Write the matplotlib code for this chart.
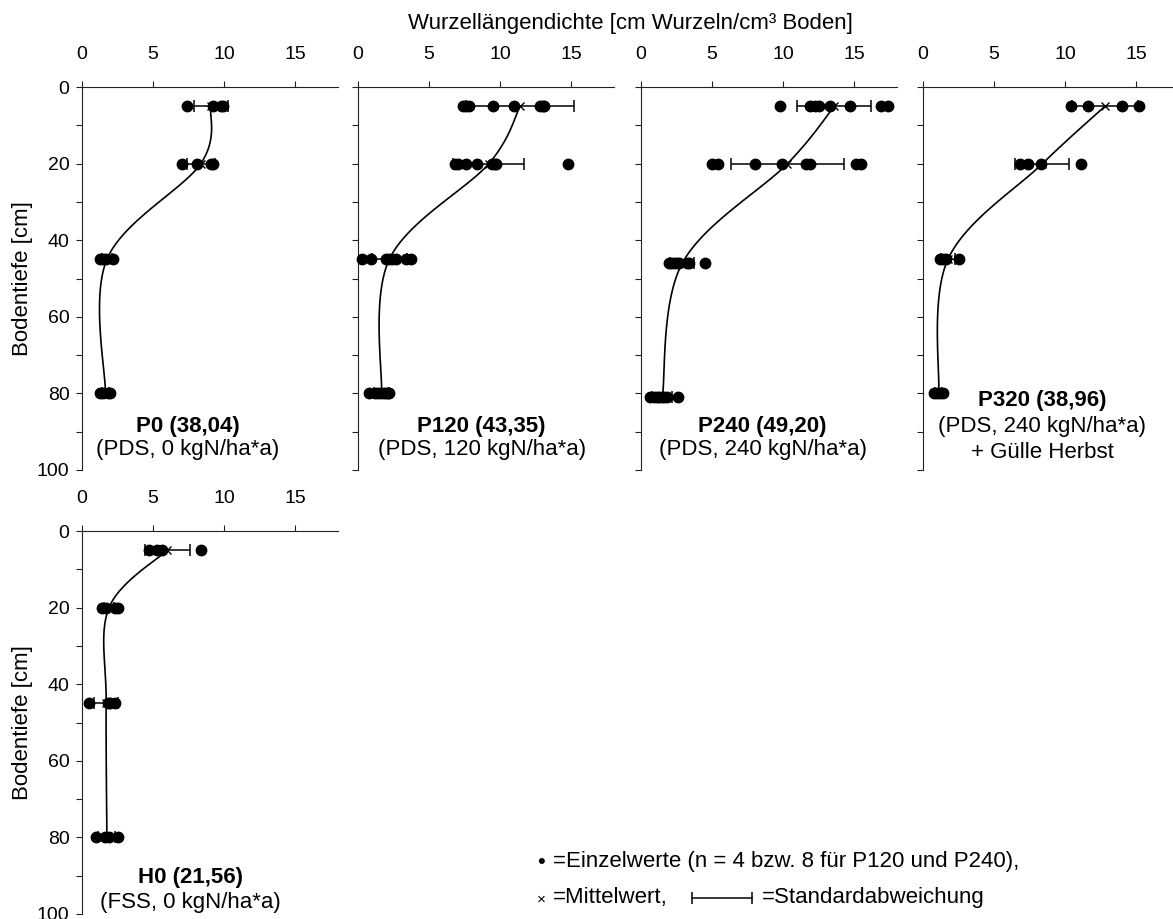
import numpy as np
import matplotlib.pyplot as plt
from matplotlib.lines import Line2D

plt.rcParams['font.family'] = ['Liberation Sans', 'DejaVu Sans']

# Probenahmetiefen [cm]
depth_p0 = [5, 20, 45, 80]
depth_p120 = [5, 20, 45, 80]
depth_p240 = [5, 20, 46, 81]
depth_p320 = [5, 20, 45, 80]
depth_h0 = [5, 20, 45, 80]

# Einzelwerte (je Tiefe)
vals_p0 = [[7.4, 9.2, 9.8, 9.9], [7.0, 8.1, 9.1, 9.2],
           [1.3, 1.5, 1.7, 2.2], [1.3, 1.5, 1.8, 2.0]]
vals_p120 = [[7.4, 7.6, 7.8, 9.5, 11.0, 12.8, 13.0, 13.1],
             [6.8, 7.0, 7.6, 8.4, 9.4, 9.6, 9.7, 14.8],
             [0.3, 0.9, 2.0, 2.2, 2.4, 2.7, 3.4, 3.7],
             [0.8, 1.2, 1.4, 1.6, 1.8, 2.0, 2.1, 2.2]]
vals_p240 = [[9.8, 11.9, 12.2, 12.5, 13.3, 14.7, 16.9, 17.4],
             [5.0, 5.4, 8.0, 9.9, 11.6, 11.9, 15.1, 15.5],
             [2.0, 2.1, 2.3, 2.5, 2.7, 3.2, 3.4, 4.5],
             [0.6, 0.9, 1.1, 1.3, 1.5, 1.6, 1.8, 2.6]]
vals_p320 = [[10.4, 11.6, 14.0, 15.2], [6.8, 7.4, 8.3, 11.1],
             [1.2, 1.4, 1.6, 2.5], [0.8, 1.0, 1.2, 1.4]]
vals_h0 = [[4.7, 5.3, 5.6, 8.4], [1.4, 1.7, 2.3, 2.5],
           [0.5, 1.8, 2.0, 2.3], [1.0, 1.6, 1.9, 2.5]]

# Mittelwerte und Standardabweichungen
mean_p0 = [9.05, 8.35, 1.75, 1.65]
sd_p0 = [1.2, 1.0, 0.33, 0.25]
mean_p120 = [11.4, 9.2, 2.2, 1.65]
sd_p120 = [3.8, 2.5, 1.25, 0.55]
mean_p240 = [13.6, 10.3, 2.9, 1.5]
sd_p240 = [2.6, 4.0, 0.85, 0.7]
mean_p320 = [12.8, 8.4, 1.75, 1.1]
sd_p320 = [2.3, 1.9, 0.5, 0.25]
mean_h0 = [6.0, 1.9, 1.7, 1.75]
sd_h0 = [1.6, 0.38, 0.85, 0.6]

labels_p0 = ["P0 (38,04)", "(PDS, 0 kgN/ha*a)"]
labels_p120 = ["P120 (43,35)", "(PDS, 120 kgN/ha*a)"]
labels_p240 = ["P240 (49,20)", "(PDS, 240 kgN/ha*a)"]
labels_p320 = ["P320 (38,96)", "(PDS, 240 kgN/ha*a)", "+ Gülle Herbst"]
labels_h0 = ["H0 (21,56)", "(FSS, 0 kgN/ha*a)"]


def smooth(x, y, n=40):
    # geglaettete Linie wie in Excel (Bezier durch die Punkte)
    x = np.asarray(x, float)
    y = np.asarray(y, float)
    t = np.linspace(0, 1, n)[:, None]
    out = []
    for i in range(len(x) - 1):
        a = max(i - 1, 0)
        b = min(i + 2, len(x) - 1)
        p0 = np.array([x[i], y[i]])
        p3 = np.array([x[i + 1], y[i + 1]])
        p1 = p0 + (np.array([x[i + 1], y[i + 1]]) - np.array([x[a], y[a]])) / 6
        p2 = p3 - (np.array([x[b], y[b]]) - np.array([x[i], y[i]])) / 6
        seg = ((1 - t) ** 3) * p0 + 3 * ((1 - t) ** 2) * t * p1 \
            + 3 * (1 - t) * t ** 2 * p2 + t ** 3 * p3
        out.append(seg)
    out = np.vstack(out)
    return out[:, 0], out[:, 1]


W, H = 1173, 919
fig = plt.figure(figsize=(W / 100, H / 100), dpi=100)

panels = [
    (82, 87, depth_p0, vals_p0, mean_p0, sd_p0, labels_p0, 7.45, [88.7, 94.7], True),
    (358, 87, depth_p120, vals_p120, mean_p120, sd_p120, labels_p120, 8.7, [88.7, 94.7], False),
    (641, 87, depth_p240, vals_p240, mean_p240, sd_p240, labels_p240, 8.55, [88.7, 94.7], False),
    (923, 87, depth_p320, vals_p320, mean_p320, sd_p320, labels_p320, 8.4, [81.8, 88.6, 95.4], False),
    (82, 531, depth_h0, vals_h0, mean_h0, sd_h0, labels_h0, 7.6, [90.6, 97.1], True),
]

aw, ah = 256, 383
for left, top, dep, vals, mean, sd, labs, lx, ly, ylab in panels:
    ax = fig.add_axes([left / W, 1 - (top + ah) / H, aw / W, ah / H])
    ax.set_xlim(0, 18)
    ax.set_ylim(100, 0)
    ax.spines['right'].set_visible(False)
    ax.spines['bottom'].set_visible(False)
    for s in ['left', 'top']:
        ax.spines[s].set_linewidth(0.8)
        ax.spines[s].set_color('#222222')
    ax.xaxis.tick_top()
    ax.set_xticks([0, 5, 10, 15])
    ax.set_yticks(range(0, 101, 20))
    ax.set_yticks(range(10, 100, 20), minor=True)
    ax.tick_params(axis='x', direction='out', length=4, width=0.8, pad=13,
                   labelsize=14, colors='#222222', labelcolor='black')
    ax.tick_params(axis='y', which='both', direction='out', length=4, width=0.8,
                   pad=5, labelsize=14, colors='#222222', labelcolor='black')
    if ylab:
        ax.set_ylabel("Bodentiefe [cm]", fontsize=16, labelpad=3)
    else:
        ax.tick_params(axis='y', labelleft=False)
    ax.patch.set_alpha(0)

    cx, cy = smooth(mean, dep)
    ax.plot(cx, cy, color='black', lw=1.2, zorder=2, clip_on=False)
    ax.errorbar(mean, dep, xerr=sd, fmt='none', ecolor='black', elinewidth=1.1,
                capsize=4, capthick=1.1, zorder=3, clip_on=False)
    for d, v in zip(dep, vals):
        ax.plot(v, [d] * len(v), 'o', color='black', ms=7.5, zorder=4, clip_on=False)
    ax.plot(mean, dep, 'x', color='black', ms=6, mew=1, zorder=5, clip_on=False)

    for k, (txt, yy) in enumerate(zip(labs, ly)):
        ax.text(lx, yy, txt, ha='center', va='center', fontsize=16,
                fontweight='bold' if k == 0 else 'normal')

fig.text(630 / W, 1 - 23 / H, "Wurzellängendichte [cm Wurzeln/cm³ Boden]",
         ha='center', va='center', fontsize=16)

# Legende
y1, y2 = 1 - 862 / H, 1 - 898 / H
fig.text(541 / W, y1, "•", ha='center', va='center', fontsize=16)
fig.text(553 / W, y1, "=Einzelwerte (n = 4 bzw. 8 für P120 und P240),",
         ha='left', va='center', fontsize=16)
fig.text(541 / W, y2 - 0.002, "×", ha='center', va='center', fontsize=11)
fig.text(553 / W, y2, "=Mittelwert,", ha='left', va='center', fontsize=16)
fig.add_artist(Line2D([692 / W, 752 / W], [y2, y2], color='black', lw=1.1,
                      marker='|', ms=9, mew=1.1, transform=fig.transFigure))
fig.text(762 / W, y2, "=Standardabweichung", ha='left', va='center', fontsize=16)

fig.savefig("out.png", dpi=100)
